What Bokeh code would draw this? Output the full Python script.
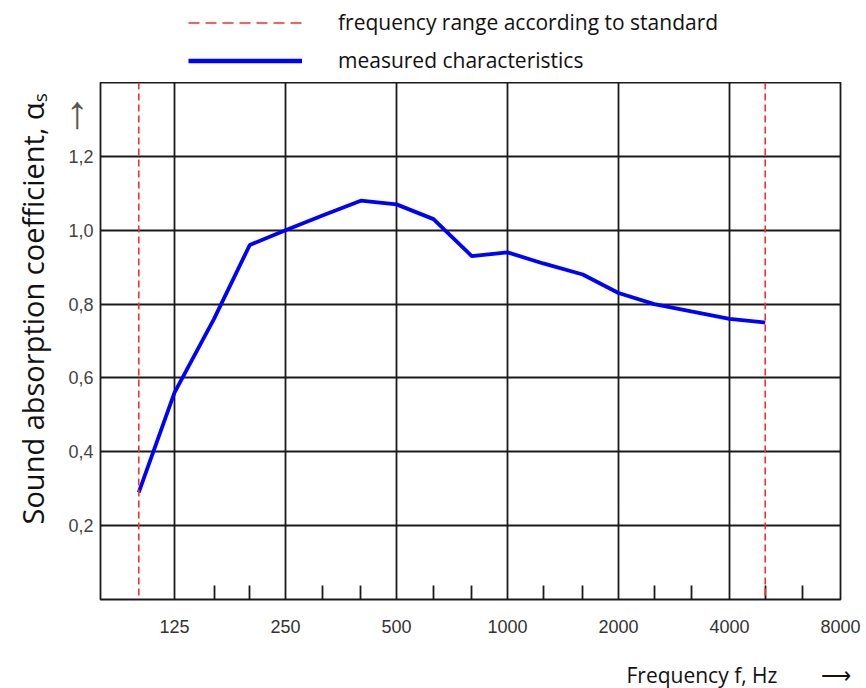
import math
from bokeh.plotting import figure
from bokeh.layouts import column
from bokeh.models import (Range1d, FixedTicker, CustomJSTickFormatter, Span,
                          Legend, LegendItem, Title, LinearAxis)
from bokeh.embed import file_html
from bokeh.resources import INLINE

# ---- data ----
freq = [100, 125, 160, 200, 250, 315, 400, 500, 630, 800, 1000, 1250, 1600,
        2000, 2500, 3150, 4000, 5000]
alpha = [0.29, 0.56, 0.76, 0.96, 1.00, 1.04, 1.08, 1.07, 1.03, 0.93, 0.94,
         0.91, 0.88, 0.83, 0.80, 0.78, 0.76, 0.75]
std_range = [100, 5000]
octave_ticks = [125, 250, 500, 1000, 2000, 4000, 8000]
third_octave_ticks = [160, 200, 315, 400, 630, 800, 1250, 1600, 2500, 3150, 5000, 6300]
y_ticks = [0.2, 0.4, 0.6, 0.8, 1.0, 1.2]
y_arrow_at = [1.34]          # where the "up" arrow of the y axis sits
legend_labels = ["frequency range according to standard", "measured characteristics"]
y_title = "Sound absorption coefficient, \u03b1\u209b"
x_title = "Frequency f, Hz"

RED = "#ff2a2a"
BLUE = "#0000ff"
INK = "#1a1a1a"
NB = "\u00a0"

# ---------------- legend strip (top) ----------------
leg = figure(width=866, height=82, output_backend="svg", toolbar_location=None,
             x_axis_location=None, y_axis_location=None,
             x_range=Range1d(0, 1), y_range=Range1d(0, 1),
             min_border=0, min_border_left=0, min_border_right=0,
             min_border_top=0, min_border_bottom=0)
leg.outline_line_color = None
leg.xgrid.visible = False
leg.ygrid.visible = False
r_red = leg.line(x=[2, 3], y=[2, 2], line_color=RED, line_width=1.6, line_dash="11 6")
r_blue = leg.line(x=[2, 3], y=[2, 2], line_color=BLUE, line_width=4.5)
legend = Legend(items=[LegendItem(label=legend_labels[0], renderers=[r_red]),
                       LegendItem(label=legend_labels[1], renderers=[r_blue])],
                location=(88, 8), orientation="vertical",
                glyph_width=114, glyph_height=27, label_height=27, spacing=10,
                label_standoff=36, padding=0, margin=0,
                border_line_alpha=0, background_fill_alpha=0,
                label_text_font="Open Sans", label_text_font_size="21px",
                label_text_color="#111111")
leg.add_layout(legend)

# ---------------- main chart ----------------
p = figure(width=866, height=606, x_axis_type="log", output_backend="svg",
           toolbar_location=None,
           x_range=Range1d(125 / 2 ** (2 / 3), 8000), y_range=Range1d(0, 1.4),
           min_border_left=100, min_border_right=26, min_border_top=0,
           min_border_bottom=88)
p.outline_line_color = INK
p.outline_line_width = 1.8

xa = p.xaxis[0]
xa.ticker = FixedTicker(ticks=octave_ticks, minor_ticks=third_octave_ticks)
xa.major_tick_in = 0
xa.major_tick_out = 0
xa.minor_tick_in = 14
xa.minor_tick_out = 0
xa.minor_tick_line_color = INK
xa.minor_tick_line_width = 1.8
xa.axis_line_color = None
xa.major_label_text_font = "Liberation Sans"
xa.major_label_text_font_size = "18px"
xa.major_label_text_color = "#333333"
xa.major_label_standoff = 20
xa.formatter = CustomJSTickFormatter(code="return tick.toFixed(0);")
# an empty spacer label pushes the "Frequency" title down
xa.axis_label = NB
xa.axis_label_text_font_size = "1px"
xa.axis_label_standoff = 19

ya = p.yaxis[0]
ya.ticker = FixedTicker(ticks=y_ticks)
ya.major_tick_in = 0
ya.major_tick_out = 0
ya.minor_tick_line_color = None
ya.axis_line_color = None
ya.major_label_text_font = "Liberation Sans"
ya.major_label_text_font_size = "18px"
ya.major_label_text_color = "#444444"
ya.major_label_standoff = 7
ya.formatter = CustomJSTickFormatter(code="return tick.toFixed(1).replace('.', ',');")

# second left axis that only carries the direction arrow above the tick labels
arrow_axis = LinearAxis(ticker=FixedTicker(ticks=y_arrow_at),
                        formatter=CustomJSTickFormatter(code="return '\u2191';"),
                        axis_line_color=None, major_tick_line_color=None,
                        minor_tick_line_color=None, major_label_standoff=-29,
                        major_label_text_font="Liberation Sans",
                        major_label_text_font_size="46px",
                        major_label_text_color="#555555")

ytitle = Title(text=y_title, align="left", offset=75,
               text_font="Open Sans", text_font_size="29px", text_font_style="normal",
               text_color="#111111", standoff=21)
p.left = [ya, arrow_axis, ytitle]

p.xgrid.ticker = FixedTicker(ticks=octave_ticks[:-1])
p.ygrid.ticker = FixedTicker(ticks=y_ticks)
for g in (p.xgrid[0], p.ygrid[0]):
    g.grid_line_color = INK
    g.grid_line_width = 1.8
    g.grid_line_alpha = 1.0

for f in std_range:
    p.add_layout(Span(location=f, dimension="height", line_color=RED,
                      line_width=1.6, line_dash="7 4"))
p.line(x=freq, y=alpha, line_color=BLUE, line_width=3.8)

p.add_layout(Title(text=x_title + NB * 8 + "\u27f6", align="left", offset=526,
                   text_font="Open Sans", text_font_size="21px", text_font_style="normal",
                   text_color="#111111", standoff=0), "below")

layout = column(leg, p, spacing=0)
open("out.html", "w").write(file_html(layout, INLINE))
